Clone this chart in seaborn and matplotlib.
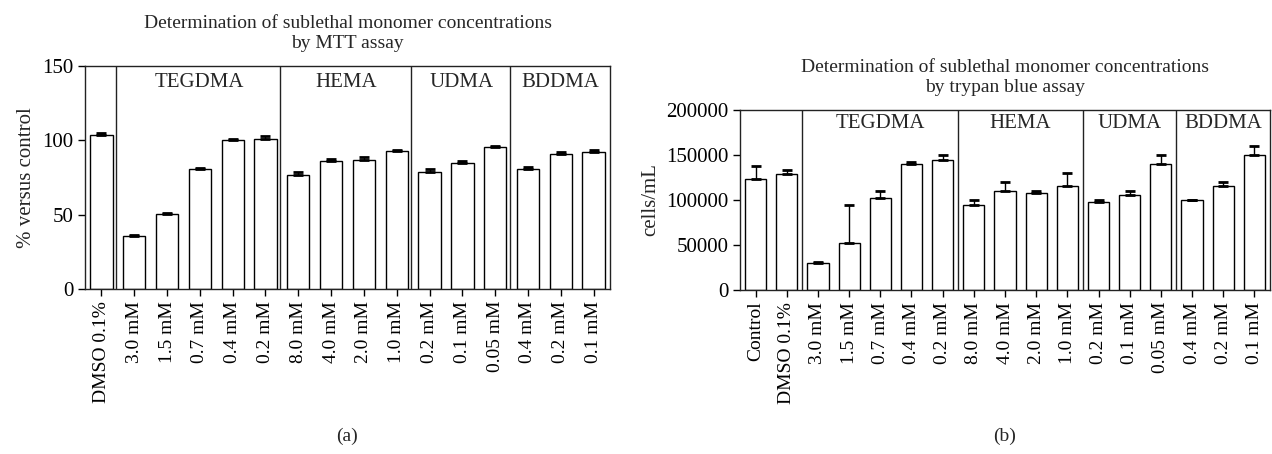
import numpy as np
import pandas as pd
import matplotlib
matplotlib.use("Agg")
import matplotlib.pyplot as plt
import seaborn as sns

# ---- Panel (a): MTT assay, % versus control ----
mtt_groups = ["", "TEGDMA", "HEMA", "UDMA", "BDDMA"]
mtt_conc = [
    ["DMSO 0.1%"],
    ["3.0 mM", "1.5 mM", "0.7 mM", "0.4 mM", "0.2 mM"],
    ["8.0 mM", "4.0 mM", "2.0 mM", "1.0 mM"],
    ["0.2 mM", "0.1 mM", "0.05 mM"],
    ["0.4 mM", "0.2 mM", "0.1 mM"],
]
mtt_mean = [103.7, 35.7, 50.5, 80.8, 100.2, 100.8, 76.8, 86.0, 86.7, 92.7,
            78.9, 84.8, 95.3, 80.5, 91.0, 92.4]
mtt_sem = [1.3, 0.9, 0.7, 0.7, 0.8, 2.2, 1.6, 1.6, 2.2, 0.9,
           1.6, 1.1, 1.1, 1.3, 0.9, 1.1]

# ---- Panel (b): trypan blue assay, cells/mL ----
tb_groups = ["", "TEGDMA", "HEMA", "UDMA", "BDDMA"]
tb_conc = [
    ["Control", "DMSO 0.1%"],
    ["3.0 mM", "1.5 mM", "0.7 mM", "0.4 mM", "0.2 mM"],
    ["8.0 mM", "4.0 mM", "2.0 mM", "1.0 mM"],
    ["0.2 mM", "0.1 mM", "0.05 mM"],
    ["0.4 mM", "0.2 mM", "0.1 mM"],
]
tb_mean = [123600, 128900, 30200, 52500, 102400, 140400, 144900, 95000, 109900,
           107600, 115100, 98000, 105400, 140400, 99800, 115100, 150500]
tb_sem = [13800, 4100, 400, 42500, 7500, 1900, 5600, 5200, 10400,
          2300, 15300, 2200, 4500, 10100, 300, 5200, 10000]

sns.set_style("ticks")
plt.rcParams["font.family"] = ["Liberation Serif", "DejaVu Serif"]
plt.rcParams["axes.linewidth"] = 1.0
plt.rcParams["xtick.major.width"] = 1.0
plt.rcParams["ytick.major.width"] = 1.0
plt.rcParams["xtick.color"] = "black"
plt.rcParams["ytick.color"] = "black"
plt.rcParams["axes.edgecolor"] = "#222222"

XTICK_FS = 14
YTICK_FS = 15
GROUP_FS = 15
TITLE_FS = 14


def build_frame(groups, conc, mean):
    rows = []
    for g, cs in zip(groups, conc):
        for c in cs:
            rows.append({"key": f"{g}|{c}", "group": g, "conc": c})
    df = pd.DataFrame(rows)
    df["value"] = mean
    return df


def draw_panel(ax, groups, conc, mean, sem, ylim, yticks, ylabel, title,
               sep_offset):
    df = build_frame(groups, conc, mean)
    sns.barplot(data=df, x="key", y="value", order=list(df["key"]),
                color="white", edgecolor="black", linewidth=1.0,
                width=0.68, errorbar=None, saturation=1, ax=ax)
    pos = np.arange(len(df))
    ax.errorbar(pos, df["value"], yerr=[np.zeros(len(df)), sem],
                fmt="none", ecolor="black", elinewidth=1.0,
                capsize=3.5, capthick=2.0, zorder=3)

    # vertical separators and group names
    sizes = [len(c) for c in conc]
    edges = np.cumsum([0] + sizes)
    for b in edges[1:-1]:
        ax.axvline(b - 0.5 + sep_offset, color="#222222", lw=1.0, zorder=1)
    for g, lo, hi in zip(groups, edges[:-1], edges[1:]):
        if g:
            ax.text((lo + hi - 1) / 2 + sep_offset / 2, ylim[1] * 0.925, g,
                    ha="center", va="center", fontsize=GROUP_FS)

    ax.set_xlim(-0.5, len(df) - 0.5)
    ax.set_ylim(*ylim)
    ax.set_yticks(yticks)
    ax.set_xticks(pos)
    ax.set_xticklabels(df["conc"], rotation=90, fontsize=XTICK_FS)
    ax.tick_params(axis="y", labelsize=YTICK_FS, length=5, direction="out")
    ax.tick_params(axis="x", length=5, direction="out")
    ax.set_xlabel("")
    ax.set_ylabel(ylabel, fontsize=YTICK_FS)
    ax.set_title(title, fontsize=TITLE_FS, pad=13, linespacing=1.2)
    for s in ax.spines.values():
        s.set_visible(True)


fig = plt.figure(figsize=(12.72, 4.54), dpi=100)
ax_a = fig.add_axes([85 / 1272, 1 - 289 / 454, 525 / 1272, 223 / 454])
ax_b = fig.add_axes([740 / 1272, 1 - 290 / 454, 530 / 1272, 180 / 454])

draw_panel(ax_a, mtt_groups, mtt_conc, mtt_mean, mtt_sem, (0, 150),
           [0, 50, 100, 150], "% versus control",
           "Determination of sublethal monomer concentrations\nby MTT assay",
           sep_offset=-0.05)
draw_panel(ax_b, tb_groups, tb_conc, tb_mean, tb_sem, (0, 200000),
           [0, 50000, 100000, 150000, 200000], "cells/mL",
           "Determination of sublethal monomer concentrations\nby trypan blue assay",
           sep_offset=0.0)

fig.text(347 / 1272, 1 - 436 / 454, "(a)", ha="center", va="center",
         fontsize=XTICK_FS)
fig.text(1005 / 1272, 1 - 436 / 454, "(b)", ha="center", va="center",
         fontsize=XTICK_FS)

fig.savefig("out.png", dpi=100)
